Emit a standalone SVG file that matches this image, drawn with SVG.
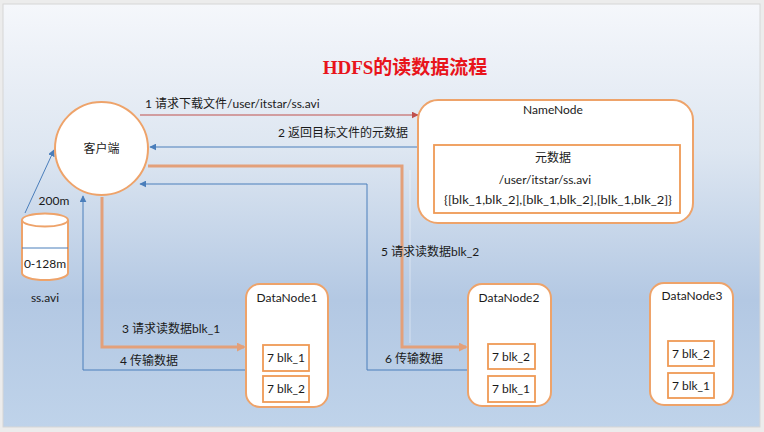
<svg xmlns="http://www.w3.org/2000/svg" width="764" height="432" viewBox="0 0 764 432">
<defs>
<linearGradient id="bg" x1="0" y1="0" x2="0" y2="1">
<stop offset="0" stop-color="#f5f7fb"/>
<stop offset="0.35" stop-color="#dde6f1"/>
<stop offset="0.7" stop-color="#b3c8e3"/>
<stop offset="1" stop-color="#bfd3ea"/>
</linearGradient>
<marker id="aRed" viewBox="0 0 10 10" refX="9" refY="5" markerWidth="7" markerHeight="7" markerUnits="userSpaceOnUse" orient="auto"><path d="M0,0 L10,5 L0,10 z" fill="#c0504d"/></marker>
<marker id="aBlue" viewBox="0 0 10 10" refX="9" refY="5" markerWidth="7" markerHeight="7" markerUnits="userSpaceOnUse" orient="auto"><path d="M0,0 L10,5 L0,10 z" fill="#4a7ebb"/></marker>
<marker id="aOrg" viewBox="0 0 10 10" refX="8" refY="5" markerWidth="9" markerHeight="9" markerUnits="userSpaceOnUse" orient="auto"><path d="M0,0 L10,5 L0,10 z" fill="#e3a07a"/></marker>
</defs>
<style>
.node{fill:#ffffff;stroke:#eea36a;stroke-width:2}
.box{fill:#ffffff;stroke:#ef9a55;stroke-width:1.8}
.t{font-family:Lato,"Noto Sans CJK SC",sans-serif;font-size:12px;fill:#1a1a1a}
.c{text-anchor:middle}
.blue{fill:none;stroke:#4a7ebb;stroke-width:1}
.org{fill:none;stroke:#e3a07a;stroke-width:3;stroke-linejoin:miter}
</style>
<rect x="0" y="0" width="764" height="432" fill="#ececec"/>
<rect x="3" y="4" width="757" height="423" fill="url(#bg)" stroke="#d6d6d6" stroke-width="1"/>
<text x="405" y="74" text-anchor="middle" font-family="'Liberation Serif','Noto Sans CJK SC',serif" font-size="19" font-weight="bold" fill="#e8141b">HDFS的读数据流程</text>

<g id="connectors">
<line x1="140" y1="115" x2="418" y2="115" stroke="#c0504d" stroke-width="1.2" marker-end="url(#aRed)"/>
<line x1="418" y1="147" x2="150" y2="147" class="blue" marker-end="url(#aBlue)"/>
<polyline points="148,166 402,166 402,347 466,347" class="org" marker-end="url(#aOrg)"/>
<line x1="410" y1="170" x2="410" y2="343" stroke="#ffffff" stroke-opacity="0.45" stroke-width="1"/>
<polyline points="468,370 367,370 367,184 140,184" class="blue" marker-end="url(#aBlue)"/>
<polyline points="102,197 102,347 244,347" class="org" marker-end="url(#aOrg)"/>
<polyline points="246,370 83,370 83,196" class="blue" marker-end="url(#aBlue)"/>
<line x1="25" y1="213" x2="54" y2="150" stroke="#4a7ebb" stroke-width="1" marker-end="url(#aBlue)"/>
</g>
<g id="labels">
<text x="145" y="108" class="t">1 请求下载文件/user/itstar/ss.avi</text>
<text x="278" y="137" class="t">2 返回目标文件的元数据</text>
<text x="122" y="333" class="t">3 请求读数据blk_1</text>
<text x="120" y="365" class="t">4 传输数据</text>
<text x="381" y="256" class="t">5 请求读数据blk_2</text>
<text x="385" y="363" class="t">6 传输数据</text>
<text x="54" y="205" class="t c">200m</text>
</g>

<g id="client">
<circle cx="101.5" cy="148.5" r="46.5" class="node"/>
<text x="101.5" y="153" class="t c" font-size="13">客户端</text>
</g>

<g id="file">
<path d="M22,220 L22,273 A23,7 0 0 0 68,273 L68,220" class="node"/>
<ellipse cx="45" cy="220" rx="23" ry="6.5" class="node"/>
<line x1="22" y1="248" x2="68" y2="248" stroke="#4a7ebb" stroke-width="1"/>
<text x="45" y="268" class="t c">0-128m</text>
<text x="45" y="302" class="t c" font-size="11">ss.avi</text>
</g>

<g id="namenode">
<rect x="418" y="100" width="275" height="123" rx="20" class="node"/>
<text x="553" y="114" class="t c">NameNode</text>
<rect x="434" y="145" width="246" height="68" class="box"/>
<text x="553" y="162" class="t c" font-size="13">元数据</text>
<text x="545" y="184" class="t c" font-size="12.5">/user/itstar/ss.avi</text>
<text x="444" y="204" class="t" font-size="13" textLength="228" lengthAdjust="spacingAndGlyphs">{[blk_1,blk_2],[blk_1,blk_2],[blk_1,blk_2]}</text>
</g>

<g id="datanode1">
<rect x="246" y="284" width="82" height="123" rx="14" class="node"/>
<text x="287" y="302" class="t c">DataNode1</text>
<rect x="263" y="345" width="46" height="26" class="box"/>
<text x="286" y="362" class="t c">7 blk_1</text>
<rect x="263" y="376" width="46" height="26" class="box"/>
<text x="286" y="393" class="t c">7 blk_2</text>
</g>

<g id="datanode2">
<rect x="468" y="284" width="83" height="122" rx="14" class="node"/>
<text x="509" y="302" class="t c">DataNode2</text>
<rect x="488" y="344" width="47" height="25" class="box"/>
<text x="511" y="361" class="t c">7 blk_2</text>
<rect x="488" y="376" width="47" height="26" class="box"/>
<text x="511" y="393" class="t c">7 blk_1</text>
</g>

<g id="datanode3">
<rect x="650" y="283" width="83" height="122" rx="14" class="node"/>
<text x="692" y="300" class="t c">DataNode3</text>
<rect x="668" y="341" width="46" height="25" class="box"/>
<text x="691" y="358" class="t c">7 blk_2</text>
<rect x="668" y="373" width="46" height="25" class="box"/>
<text x="691" y="390" class="t c">7 blk_1</text>
</g>
</svg>
